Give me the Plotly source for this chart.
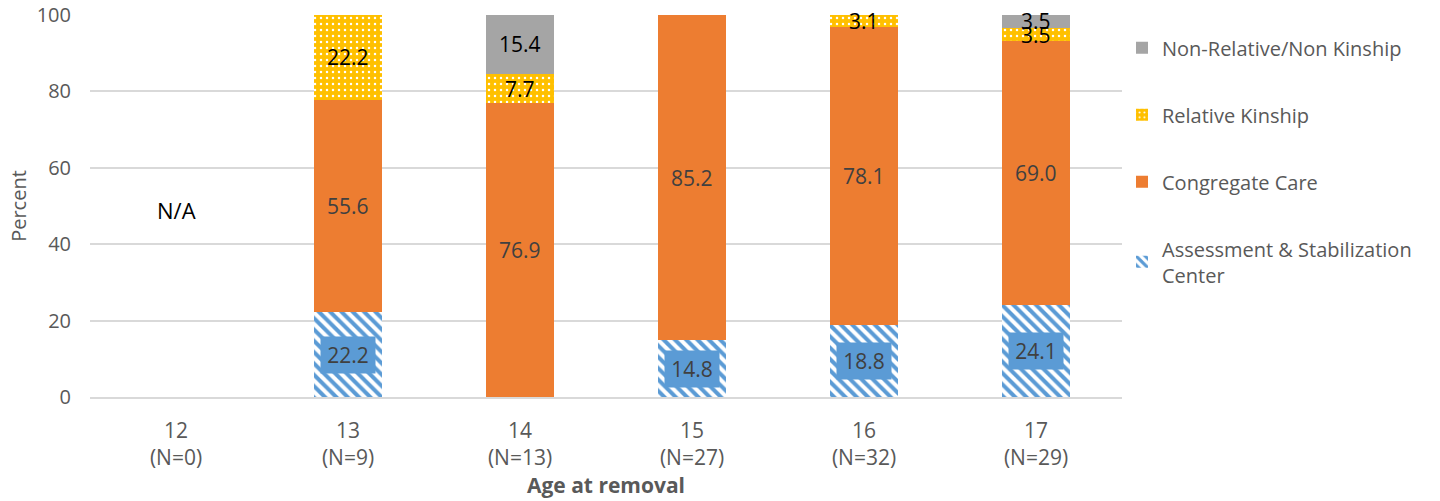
import plotly.graph_objects as go

# Placement type by age at removal (percent of youth in each age group)
ages = ["12", "13", "14", "15", "16", "17"]
counts = [0, 9, 13, 27, 32, 29]
assessment = [0, 22.2, 0, 14.8, 18.8, 24.1]
congregate = [0, 55.6, 76.9, 85.2, 78.1, 69.0]
relative = [0, 22.2, 7.7, 0, 3.1, 3.5]
non_relative = [0, 0, 15.4, 0, 0, 3.5]
missing_label = "N/A"

categories = [f"{a}<br>(N={n})" for a, n in zip(ages, counts)]

FONT = "Open Sans, Segoe UI, Arial, sans-serif"
BLUE = "#5B9BD5"
ORANGE = "#ED7D31"
YELLOW = "#FFC000"
GRAY = "#A5A5A5"
DARK_TEXT = "#404040"
AXIS_TEXT = "#595959"

fig = go.Figure()

fig.add_bar(
    name="Assessment & Stabilization<br>Center",
    x=categories, y=assessment, legendgroup="a", legendrank=4,
    marker=dict(color="white", line=dict(width=0),
                pattern=dict(shape="\\", fgcolor=BLUE, bgcolor="white",
                             size=8, solidity=0.5, fillmode="replace")),
)
fig.add_bar(
    name="Congregate Care",
    x=categories, y=congregate, legendgroup="c", legendrank=3,
    marker=dict(color=ORANGE, line=dict(width=0)),
)
fig.add_bar(
    name="Relative Kinship",
    x=categories, y=relative, legendgroup="r", legendrank=2,
    marker=dict(color=YELLOW, line=dict(width=0),
                pattern=dict(shape=".", fgcolor="white", bgcolor=YELLOW,
                             size=6, solidity=0.14, fillmode="replace")),
)
fig.add_bar(
    name="Non-Relative/Non Kinship",
    x=categories, y=non_relative, legendgroup="n", legendrank=1,
    marker=dict(color=GRAY, line=dict(width=0)),
)

# Segment value labels, centred in each stacked segment
annotations = []
series = [
    (assessment, DARK_TEXT, BLUE),
    (congregate, DARK_TEXT, None),
    (relative, "black", None),
    (non_relative, "black", None),
]
base = [0.0] * len(categories)
for values, color, box in series:
    for i, v in enumerate(values):
        if v > 0:
            ann = dict(
                x=categories[i], y=base[i] + v / 2, text=f"{v:.1f}",
                showarrow=False, font=dict(family=FONT, size=21, color=color),
                xref="x", yref="y",
            )
            if box:
                ann.update(bgcolor=box, borderpad=4, width=46)
            annotations.append(ann)
        base[i] += v

for i, n in enumerate(counts):
    if n == 0:
        annotations.append(dict(
            x=categories[i], y=49, text=missing_label, showarrow=False,
            font=dict(family=FONT, size=22, color="black"),
        ))

fig.update_layout(
    barmode="stack",
    bargap=0.6,
    width=1440, height=501,
    margin=dict(l=90, r=318, t=15, b=104, autoexpand=False),
    paper_bgcolor="white", plot_bgcolor="white",
    font=dict(family=FONT, size=20, color=AXIS_TEXT),
    annotations=annotations,
    legend=dict(
        x=1.0, y=0.965, xanchor="left", yanchor="top",
        traceorder="grouped", tracegroupgap=38,
        font=dict(family=FONT, size=20, color=AXIS_TEXT),
        itemwidth=30,
    ),
    xaxis=dict(
        title=dict(text="<b>Age at removal</b>", standoff=2,
                   font=dict(family=FONT, size=21, color=AXIS_TEXT)),
        tickfont=dict(family=FONT, size=21, color=AXIS_TEXT),
        showline=True, linecolor="#D9D9D9", linewidth=1.5,
        ticks="", showgrid=False, ticklabelstandoff=14, automargin=False,
    ),
    yaxis=dict(
        title=dict(text="Percent", standoff=4,
                   font=dict(family=FONT, size=20, color=AXIS_TEXT)),
        range=[0, 100], dtick=20,
        tickfont=dict(family=FONT, size=20, color=AXIS_TEXT),
        showgrid=True, gridcolor="#D9D9D9", gridwidth=1.5,
        zeroline=False, ticks="", ticklabelstandoff=18, automargin=False,
    ),
)

fig.write_html("out.html")
